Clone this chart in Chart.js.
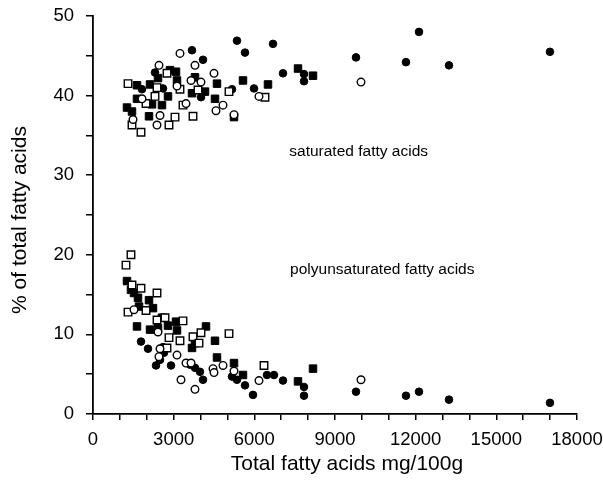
<!DOCTYPE html>
<html>
<head>
<meta charset="utf-8">
<script src="https://cdn.jsdelivr.net/npm/chart.js@4/dist/chart.umd.min.js"></script>
<style>
  html, body { margin: 0; padding: 0; background: #fff; }
  #wrap { width: 603px; height: 496px; }
</style>
</head>
<body>
<div id="wrap"><canvas id="fattyChart"></canvas></div>
<script>
// Ejes
const xTicks = [0, 3000, 6000, 9000, 12000, 15000, 18000];
const yTicks = [0, 10, 20, 30, 40, 50];

// Ácidos grasos saturados [total mg/100g, %]
const satFilledCircles = [
  [5355, 46.9], [6694, 46.5], [5653, 45.4], [3682, 45.7], [4091, 44.5],
  [2306, 42.9], [5169, 40.8], [5987, 40.9], [1822, 40.8], [2603, 40.9],
  [4016, 39.8], [9781, 44.8], [12124, 48.0], [11640, 44.2], [13239, 43.8],
  [16995, 45.5], [7066, 42.8], [7847, 42.7], [7847, 41.8]
];
const satFilledSquares = [
  [3087, 43.0], [2863, 43.2], [2417, 42.2], [3124, 41.9], [3793, 42.3],
  [4611, 41.5], [5578, 41.9], [6508, 41.4], [1636, 41.3], [2120, 41.4],
  [3682, 40.3], [4165, 40.5], [4537, 39.6], [2789, 39.9], [2566, 38.8],
  [2194, 38.9], [1636, 39.6], [1264, 38.5], [1450, 38.0], [2083, 37.4],
  [5244, 37.3], [7624, 43.4], [8182, 42.5]
];
const satOpenCircles = [
  [3235, 45.3], [3793, 43.8], [2454, 43.8], [4500, 42.8], [3645, 41.9],
  [4016, 41.7], [3124, 41.2], [1822, 39.6], [3459, 39.0], [4835, 38.8],
  [4574, 38.1], [2492, 37.5], [1488, 37.0], [2380, 36.3], [6173, 39.9],
  [5244, 37.6], [9967, 41.7]
];
const satOpenSquares = [
  [1302, 41.5], [2752, 42.8], [3235, 40.8], [2306, 39.9], [3905, 40.7],
  [5058, 40.5], [6396, 39.8], [1971, 39.0], [3347, 38.8], [3719, 37.4],
  [3049, 37.3], [1450, 36.3], [1785, 35.4], [2826, 36.3], [2380, 41.0]
];

// Ácidos grasos poliinsaturados [total mg/100g, %]
const polyFilledCircles = [
  [1785, 9.1], [2045, 8.2], [2603, 8.4], [2640, 7.7], [2492, 6.8],
  [2343, 6.1], [2901, 6.1], [3607, 6.2], [3793, 5.8], [3979, 5.3],
  [4091, 4.3], [5169, 4.7], [5355, 4.3], [5653, 3.6], [5950, 2.4],
  [6471, 4.9], [6731, 4.9], [7066, 4.2], [7847, 3.4], [7847, 2.3],
  [9781, 2.8], [11640, 2.3], [12124, 2.8], [13239, 1.8], [16995, 1.4]
];
const polyFilledSquares = [
  [1264, 16.7], [1413, 15.6], [1525, 15.2], [1673, 14.6], [2083, 14.3],
  [1711, 13.5], [2231, 13.3], [2566, 12.1], [3087, 11.6], [2789, 11.1],
  [3124, 10.5], [4202, 11.0], [2417, 10.8], [2120, 10.6], [1636, 11.0],
  [4537, 9.2], [3793, 8.9], [3682, 8.3], [4611, 7.1], [5244, 6.4],
  [5578, 4.9], [7624, 4.1], [8182, 5.7]
];
const polyOpenCircles = [
  [1525, 13.1], [2417, 10.3], [2492, 8.2], [2454, 7.2], [3124, 7.4],
  [3459, 6.4], [3645, 6.4], [4463, 5.7], [4500, 5.2], [4835, 6.1],
  [5244, 5.4], [3273, 4.3], [3793, 3.1], [6173, 4.2], [9967, 4.3]
];
const polyOpenSquares = [
  [1413, 20.0], [1227, 18.7], [1450, 16.2], [1785, 15.8], [2380, 15.2],
  [1302, 12.8], [1971, 13.0], [2380, 11.8], [2678, 12.1], [3347, 11.7],
  [2826, 9.6], [3235, 9.2], [3719, 9.7], [4016, 10.2], [3942, 8.9],
  [5058, 10.1], [2752, 8.3], [6359, 6.1]
];

const FONT = "'Liberation Sans', Arial, sans-serif";

function toPoints(arr) {
  return arr.map(([x, y]) => ({ x, y }));
}

// Estilos de marcador
function markerSet(data, shape, filled) {
  const r = shape === "rect" ? 5.3 : 3.8;
  return {
    data: toPoints(data),
    pointStyle: shape,
    pointRadius: r,
    pointHoverRadius: r,
    pointBorderWidth: filled ? 1 : 1.4,
    pointBackgroundColor: filled ? "#000" : "#fff",
    pointBorderColor: "#000",
    showLine: false,
  };
}

// Textos dentro del gráfico y títulos de ejes
const labelsPlugin = {
  id: "labelsPlugin",
  afterDraw(chart) {
    const { ctx, scales } = chart;
    ctx.save();
    ctx.fillStyle = "#000";
    ctx.textBaseline = "middle";

    ctx.font = `15.5px ${FONT}`;
    ctx.textAlign = "left";
    ctx.fillText("saturated fatty acids", scales.x.getPixelForValue(7300), scales.y.getPixelForValue(32.9));
    ctx.fillText("polyunsaturated fatty acids", scales.x.getPixelForValue(7330), scales.y.getPixelForValue(18.1));

    ctx.font = `21px ${FONT}`;
    ctx.textAlign = "center";
    ctx.fillText("Total fatty acids mg/100g", 347, 464);

    ctx.translate(20, 220);
    ctx.rotate(-Math.PI / 2);
    ctx.fillText("% of total fatty acids", 0, 0);
    ctx.restore();
  },
};

const ctx = document.getElementById("fattyChart").getContext("2d");
new Chart(ctx, {
  type: "scatter",
  data: {
    datasets: [
      markerSet(satOpenCircles, "circle", false),
      markerSet(polyOpenCircles, "circle", false),
      markerSet(satOpenSquares, "rect", false),
      markerSet(polyOpenSquares, "rect", false),
      markerSet(satFilledCircles, "circle", true),
      markerSet(polyFilledCircles, "circle", true),
      markerSet(satFilledSquares, "rect", true),
      markerSet(polyFilledSquares, "rect", true),
    ],
  },
  options: {
    responsive: true,
    maintainAspectRatio: false,
    animation: false,
    layout: { padding: { left: 0, top: 16, right: 26, bottom: 0 } },
    plugins: {
      legend: { display: false },
      tooltip: { enabled: false },
    },
    scales: {
      x: {
        type: "linear",
        min: xTicks[0],
        max: xTicks[xTicks.length - 1],
        afterFit: (scale) => {
          scale.height = 82;
          scale.paddingLeft = 0;
          scale.paddingRight = 0;
        },
        border: { display: true, color: "#000", width: 1.8 },
        grid: { drawOnChartArea: false, drawTicks: true, tickLength: 6, color: "#000", lineWidth: 1.5 },
        ticks: {
          stepSize: 1000,
          autoSkip: false,
          maxRotation: 0,
          padding: 9,
          color: "#000",
          font: { family: FONT, size: 18.5 },
          callback: (v) => (xTicks.includes(v) ? String(v) : ""),
        },
      },
      y: {
        type: "linear",
        min: yTicks[0],
        max: yTicks[yTicks.length - 1],
        afterFit: (scale) => {
          scale.width = 93;
          scale.paddingTop = 0;
          scale.paddingBottom = 0;
        },
        border: { display: true, color: "#000", width: 1.8 },
        grid: { drawOnChartArea: false, drawTicks: true, tickLength: 7, color: "#000", lineWidth: 1.5 },
        ticks: {
          stepSize: 5,
          autoSkip: false,
          padding: 12,
          color: "#000",
          font: { family: FONT, size: 18.5 },
          callback: (v) => (yTicks.includes(v) ? String(v) : ""),
        },
      },
    },
  },
  plugins: [labelsPlugin],
});
</script>
</body>
</html>
